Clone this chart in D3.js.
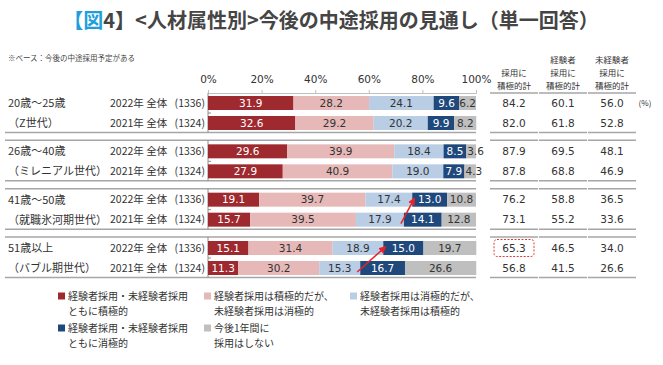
<!DOCTYPE html>
<html><head><meta charset="utf-8">
<script src="https://cdn.jsdelivr.net/npm/d3@7"></script>
<style>
html,body{margin:0;padding:0;background:#fff;}
svg{display:block;}
</style>
</head><body>
<svg id="chart" width="663" height="365"></svg>
<script>
// ---------- data ----------
const groupLabels = ["20歳～25歳","26歳～40歳","41歳～50歳","51歳以上"];
const groupSubLabels = ["（Z世代）","（ミレニアル世代）","（就職氷河期世代）","（バブル期世代）"];
const yearLabels = ["2022年 全体","2021年 全体"];
const sampleSizes = ["(1336)","(1324)"];
const tickValues = [0,20,40,60,80,100];

// rows: G1-2022, G1-2021, G2-2022, G2-2021, G3-2022, G3-2021, G4-2022, G4-2021
const bothPositive   = [31.9, 32.6, 29.6, 27.9, 19.1, 15.7, 15.1, 11.3];
const expPositiveOnly = [28.2, 29.2, 39.9, 40.9, 39.7, 39.5, 31.4, 30.2];
const inexpPositiveOnly = [24.1, 20.2, 18.4, 19.0, 17.4, 17.9, 18.9, 15.3];
const bothNegative   = [9.6, 9.9, 8.5, 7.9, 13.0, 14.1, 15.0, 16.7];
const noHiring       = [6.2, 8.2, 3.6, 4.3, 10.8, 12.8, 19.7, 26.6];

const totalPositive  = [84.2, 82.0, 87.9, 87.8, 76.2, 73.1, 65.3, 56.8];
const expPositive    = [60.1, 61.8, 69.5, 68.8, 58.8, 55.2, 46.5, 41.5];
const inexpPositive  = [56.0, 52.8, 48.1, 46.9, 36.5, 33.6, 34.0, 26.6];

const tableHeaders = [["採用に","積極的計"],["経験者","採用に","積極的計"],["未経験者","採用に","積極的計"]];
const legendLabels = [
  ["経験者採用・未経験者採用","ともに積極的"],
  ["経験者採用は積極的だが、","未経験者採用は消極的"],
  ["経験者採用は消極的だが、","未経験者採用は積極的"],
  ["経験者採用・未経験者採用","ともに消極的"],
  ["今後1年間に","採用はしない"]
];
const seriesKeys = ["bothPositive","expPositiveOnly","inexpPositiveOnly","bothNegative","noHiring"];
const seriesColors = ["#9e2a2f","#e6b9b8","#b9cde5","#1f497d","#bfbfbf"];
const seriesTextColors = ["#ffffff","#333333","#333333","#ffffff","#333333"];
const arrowGroups = [2,3];
const highlightRow = 6;

// ---------- build ----------
const svg = d3.select("#chart");
const JP = "'Noto Sans CJK JP','Noto Sans',sans-serif";
const NUM = "'DejaVu Sans',Verdana,sans-serif";

const rows = bothPositive.map((v,i)=>({
  idx:i, group:Math.floor(i/2), year:yearLabels[i%2], n:sampleSizes[i%2],
  bothPositive:v, expPositiveOnly:expPositiveOnly[i], inexpPositiveOnly:inexpPositiveOnly[i],
  bothNegative:bothNegative[i], noHiring:noHiring[i]
}));

const x = d3.scaleLinear().domain([0,100]).range([208,476]);
const yGroup = d3.scaleLinear().domain([0,3]).range([103,248]);
const yRow = d3.scalePoint().domain(yearLabels).range([0,20]);
const rowY = r => yGroup(r.group) + yRow(r.year);
const barH = 14;

const colX = d3.scalePoint().domain([0,1,2]).range([514,612]);
const colHalf = 24;

// Title
const title = svg.append("text").attr("x",331).attr("y",28).attr("text-anchor","middle")
  .attr("font-family",JP).attr("font-size",20).attr("font-weight","bold").attr("fill","#454545");
title.append("tspan").attr("fill","#1e9fdc").text("【図");
title.append("tspan").text("4】<人材属性別>今後の中途採用の見通し（単一回答）");

// note
svg.append("text").attr("x",8).attr("y",61).attr("font-family",JP).attr("font-size",7.5)
  .attr("fill","#444").text("※ベース：今後の中途採用予定がある");

// axis
const axisY = 93;
const axis = d3.axisTop(x).tickValues(tickValues).tickSize(3).tickFormat(d=>d+"%");
const ag = svg.append("g").attr("transform",`translate(0,${axisY})`).call(axis);
ag.select(".domain").attr("stroke","#bfbfbf");
ag.selectAll(".tick line").attr("stroke","#bfbfbf");
ag.selectAll(".tick text").attr("font-family",NUM).attr("font-size",10.5).attr("fill","#333").attr("dy","-4");

// group lines (left) and table lines
const lineColor = "#a6a6a6";
d3.range(4).forEach(g=>{
  const top = yGroup(g) - 11;
  const bottom = yGroup(g) + yRow(yearLabels[1]) + 9.5;
  const ys = g===0 ? [bottom] : [top,bottom];
  ys.forEach(yy=>{
    svg.append("line").attr("x1",5).attr("x2",x(100)).attr("y1",yy).attr("y2",yy)
      .attr("stroke",lineColor).attr("stroke-width",1.5);
    [0,1,2].forEach(c=>{
      svg.append("line").attr("x1",colX(c)-colHalf).attr("x2",colX(c)+colHalf)
        .attr("y1",yy).attr("y2",yy).attr("stroke",lineColor).attr("stroke-width",1.5);
    });
  });
  // vertical category axis
  svg.append("line").attr("x1",x(0)).attr("x2",x(0)).attr("y1",g===0?axisY:top).attr("y2",bottom)
    .attr("stroke","#8c8c8c").attr("stroke-width",1);
  const mid = yGroup(g) + yRow(yearLabels[1])/2;
  svg.append("line").attr("x1",x(0)).attr("x2",x(0)+3).attr("y1",mid).attr("y2",mid)
    .attr("stroke","#8c8c8c").attr("stroke-width",1);
  // group labels
  svg.append("text").attr("x",8).attr("y",yGroup(g)).attr("dy","0.36em")
    .attr("font-family",JP).attr("font-size",11).attr("fill","#333").text(groupLabels[g]);
  svg.append("text").attr("x",8).attr("y",yGroup(g)+yRow(yearLabels[1])).attr("dy","0.36em")
    .attr("font-family",JP).attr("font-size",11).attr("fill","#333").text(groupSubLabels[g]);
});

// table header lines
[0,1,2].forEach(c=>{
  svg.append("line").attr("x1",colX(c)-colHalf).attr("x2",colX(c)+colHalf)
    .attr("y1",axisY).attr("y2",axisY).attr("stroke",lineColor).attr("stroke-width",1.5);
  const hdr = tableHeaders[c];
  hdr.forEach((t,k)=>{
    svg.append("text").attr("x",colX(c)).attr("y",86 - (hdr.length-1-k)*13).attr("dy","0.36em")
      .attr("text-anchor","middle").attr("font-family",JP).attr("font-size",8.5).attr("fill","#333").text(t);
  });
});
svg.append("text").attr("x",645).attr("y",yGroup(0)).attr("dy","0.36em").attr("text-anchor","middle")
  .attr("font-family",JP).attr("font-size",8).attr("fill","#333").text("(%)");

// row labels
rows.forEach(r=>{
  svg.append("text").attr("x",110).attr("y",rowY(r)).attr("dy","0.36em")
    .attr("font-family",JP).attr("font-size",10.5).attr("fill","#333").text(r.year);
  svg.append("text").attr("x",205).attr("y",rowY(r)).attr("dy","0.36em").attr("text-anchor","end")
    .attr("font-family",JP).attr("font-size",10.5).attr("fill","#333").text(r.n);
});

// stacked bars
const stack = d3.stack().keys(seriesKeys)(rows);
stack.forEach((layer,li)=>{
  const g = svg.append("g");
  layer.forEach((d,i)=>{
    const r = rows[i];
    g.append("rect").attr("x",x(d[0])).attr("y",rowY(r)-barH/2)
      .attr("width",x(d[1])-x(d[0])).attr("height",barH).attr("fill",seriesColors[li]);
  });
});
stack.forEach((layer,li)=>{
  layer.forEach((d,i)=>{
    const r = rows[i];
    const v = r[seriesKeys[li]];
    const small = v < 5;
    svg.append("text")
      .attr("x", small ? x(d[0])+1 : (x(d[0])+x(d[1]))/2)
      .attr("y",rowY(r)).attr("dy","0.36em")
      .attr("text-anchor", small ? "start" : "middle")
      .attr("font-family",NUM).attr("font-size",10.5).attr("fill",seriesTextColors[li])
      .text(v.toFixed(1));
  });
});

// table values
[totalPositive, expPositive, inexpPositive].forEach((arr,c)=>{
  rows.forEach(r=>{
    svg.append("text").attr("x",colX(c)).attr("y",rowY(r)).attr("dy","0.36em").attr("text-anchor","middle")
      .attr("font-family",NUM).attr("font-size",10.5).attr("fill","#333").text(arr[r.idx].toFixed(1));
  });
});

// highlight box
{
  const r = rows[highlightRow];
  svg.append("rect").attr("x",colX(0)-20).attr("y",rowY(r)-8.5).attr("width",40).attr("height",17)
    .attr("rx",3).attr("fill","none").attr("stroke","#e23a3a").attr("stroke-width",1)
    .attr("stroke-dasharray","2,1.5");
}

// arrows
svg.append("defs").append("marker").attr("id","ah").attr("viewBox","0 0 10 10")
  .attr("refX",8).attr("refY",5).attr("markerWidth",5).attr("markerHeight",5).attr("orient","auto")
  .append("path").attr("d","M0,0L10,5L0,10z").attr("fill","#e8232a");
arrowGroups.forEach(gIdx=>{
  const lo = stack[3][gIdx*2+1], hi = stack[3][gIdx*2];
  const rLo = rows[gIdx*2+1], rHi = rows[gIdx*2];
  svg.append("line").attr("x1",x(lo[0])-3).attr("y1",rowY(rLo)+4)
    .attr("x2",x(hi[0])+2).attr("y2",rowY(rHi)-1)
    .attr("stroke","#e8232a").attr("stroke-width",1.5).attr("marker-end","url(#ah)");
});

// legend
const legX = d3.scalePoint().domain([0,1,2]).range([58,350]);
legendLabels.forEach((lab,i)=>{
  const col = i<3 ? i : i-3;
  const rowTop = i<3 ? 296 : 328;
  const lx = legX(col);
  svg.append("rect").attr("x",lx).attr("y",rowTop-3.5).attr("width",7).attr("height",7).attr("fill",seriesColors[i]);
  lab.forEach((t,k)=>{
    svg.append("text").attr("x",lx+10).attr("y",rowTop + k*15.5).attr("dy","0.36em")
      .attr("font-family",JP).attr("font-size",10).attr("fill","#333").text(t);
  });
});
</script>
</body></html>
